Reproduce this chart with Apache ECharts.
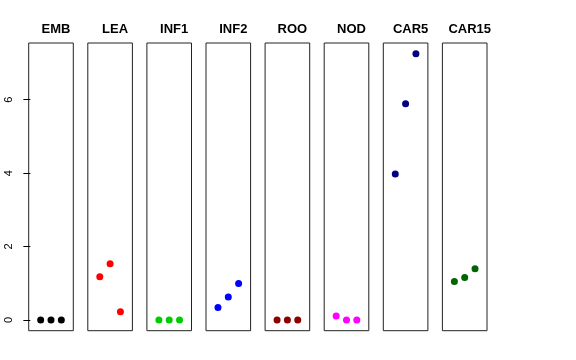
<!DOCTYPE html>
<html><head><meta charset="utf-8">
<script src="https://cdn.jsdelivr.net/npm/echarts@6/dist/echarts.min.js"></script>
<style>html,body{margin:0;padding:0;background:#fff}#c{width:576px;height:360px}</style>
</head><body><div id="c"></div>
<script>
var panels = ['EMB','LEA','INF1','INF2','ROO','NOD','CAR5','CAR15'];
var xPositions = [1, 2, 3];
var EMB = [0, 0, 0];
var LEA = [1.18, 1.53, 0.225];
var INF1 = [0, 0, 0];
var INF2 = [0.34, 0.625, 0.995];
var ROO = [0, 0, 0];
var NOD = [0.11, 0, 0];
var CAR5 = [3.975, 5.89, 7.245];
var CAR15 = [1.05, 1.16, 1.395];
var yTicks = [0, 2, 4, 6];
var colors = ['#000000','#FF0000','#00CD00','#0000FF','#8B0000','#FF00FF','#000080','#006400'];
var seriesValues = [EMB, LEA, INF1, INF2, ROO, NOD, CAR5, CAR15];

var chart = echarts.init(document.getElementById('c'), null, {renderer:'canvas'});
var grids = [], xAxes = [], yAxes = [], series = [], titles = [];
var gLeft0 = 28.7, gStep = 59.1, gWidth = 44.6, gTop = 43, gHeight = 287.7;
panels.forEach(function(name, i){
  var l = gLeft0 + gStep*i;
  grids.push({left:l, top:gTop, width:gWidth, height:gHeight, show:true, borderColor:'#222', borderWidth:1, backgroundColor:'transparent'});
  xAxes.push({type:'value', gridIndex:i, min:-0.16, max:4.16, show:false});
  var ya = {type:'value', gridIndex:i, min:-0.29, max:7.54, splitLine:{show:false},
    axisLine:{show:false}};
  if (i === 0) {
    ya.axisTick = {show:true, length:7, inside:false, lineStyle:{color:'#000', width:1}, customValues:yTicks};
    ya.axisLabel = {show:true, rotate:90, margin:14, fontSize:11, color:'#000', fontFamily:'Liberation Sans, Arial, sans-serif', customValues:yTicks, formatter:function(v){return String(v);}};
  } else {
    ya.axisTick = {show:false};
    ya.axisLabel = {show:false};
  }
  yAxes.push(ya);
  series.push({type:'scatter', xAxisIndex:i, yAxisIndex:i, symbol:'circle', symbolSize:7,
    itemStyle:{color:colors[i], opacity:1}, silent:true,
    data: xPositions.map(function(x, j){ return [x, seriesValues[i][j]]; })});
  titles.push({text:name, left:l + gWidth/2, top:18, textAlign:'center',
    textStyle:{fontSize:13, fontWeight:'bold', color:'#000', fontFamily:'Liberation Sans, Arial, sans-serif'}});
});
chart.setOption({animation:false, backgroundColor:'#fff', title:titles, grid:grids, xAxis:xAxes, yAxis:yAxes, series:series});
</script></body></html>
